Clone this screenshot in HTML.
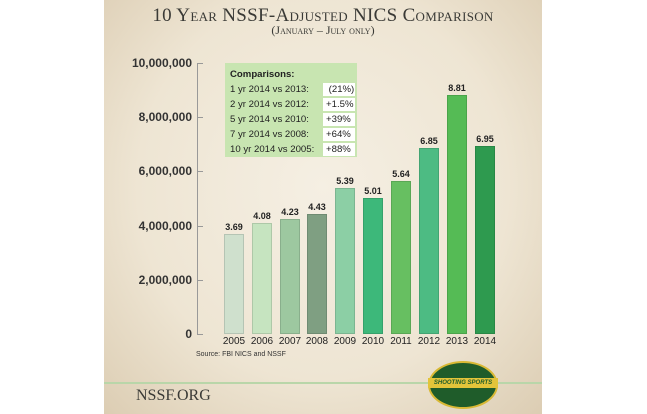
<!DOCTYPE html><html><head><style>
body{margin:0;width:647px;height:414px;background:#fff;overflow:hidden;position:relative;font-family:"Liberation Sans",sans-serif}
#p{position:absolute;left:104px;top:0;width:438px;height:414px;background:radial-gradient(ellipse at 50% 45%,#f5efe3 0%,#eee5d3 60%,#dccdb3 100%)}
.t{position:absolute;left:0;width:438px;text-align:center;font-family:"Liberation Serif",serif;color:#3a3a36;font-variant:small-caps}
.yl{position:absolute;right:455px;font-weight:bold;font-size:12px;color:#333;text-align:right}
.bar{position:absolute;width:20px;bottom:80px;box-sizing:border-box;border:1px solid rgba(0,0,0,.12)}
.v{position:absolute;width:28px;text-align:center;font-size:9px;font-weight:bold;color:#222}
.x{position:absolute;top:336px;width:30px;text-align:center;font-size:10px;color:#222}
.box{position:absolute;left:225px;top:63px;width:132px;height:94px;background:#c8e5b1;font-size:9.6px;color:#222}
.r{position:absolute;left:5px;width:124px;height:13px;line-height:13px}
.r span{position:absolute;left:93px;width:32px;background:#fff;padding-left:3px;box-sizing:border-box}
</style></head><body>
<div id="p"></div>
<div class="t" style="left:104px;top:5px;font-size:19px;letter-spacing:.3px">10 Year NSSF-Adjusted NICS Comparison</div>
<div class="t" style="left:104px;top:23px;font-size:12px">(January – July only)</div>
<div style="position:absolute;left:197px;top:63px;width:1px;height:271px;background:#999"></div>
<div style="position:absolute;left:197px;top:63px;width:6px;height:1px;background:#999"></div>
<div style="position:absolute;left:197px;top:117px;width:6px;height:1px;background:#999"></div>
<div style="position:absolute;left:197px;top:171px;width:6px;height:1px;background:#999"></div>
<div style="position:absolute;left:197px;top:226px;width:6px;height:1px;background:#999"></div>
<div style="position:absolute;left:197px;top:280px;width:6px;height:1px;background:#999"></div>
<div style="position:absolute;left:197px;top:334px;width:6px;height:1px;background:#999"></div>
<div class="yl" style="top:56px">10,000,000</div>
<div class="yl" style="top:110px">8,000,000</div>
<div class="yl" style="top:164px">6,000,000</div>
<div class="yl" style="top:219px">4,000,000</div>
<div class="yl" style="top:273px">2,000,000</div>
<div class="yl" style="top:327px">0</div>

<div class="bar" style="left:224px;height:100px;background:#cfe0cd"></div>
<div class="bar" style="left:252px;height:111px;background:#c6e4c0"></div>
<div class="bar" style="left:280px;height:115px;background:#9dc8a0"></div>
<div class="bar" style="left:307px;height:120px;background:#7f9f82"></div>
<div class="bar" style="left:335px;height:146px;background:#8ccfa5"></div>
<div class="bar" style="left:363px;height:136px;background:#3db87a"></div>
<div class="bar" style="left:391px;height:153px;background:#67bf61"></div>
<div class="bar" style="left:419px;height:186px;background:#4dbb83"></div>
<div class="bar" style="left:447px;height:239px;background:#55bb55"></div>
<div class="bar" style="left:475px;height:188px;background:#2e9a4f"></div>

<div class="v" style="left:220px;top:222px">3.69</div>
<div class="v" style="left:248px;top:211px">4.08</div>
<div class="v" style="left:276px;top:207px">4.23</div>
<div class="v" style="left:303px;top:202px">4.43</div>
<div class="v" style="left:331px;top:176px">5.39</div>
<div class="v" style="left:359px;top:186px">5.01</div>
<div class="v" style="left:387px;top:169px">5.64</div>
<div class="v" style="left:415px;top:136px">6.85</div>
<div class="v" style="left:443px;top:83px">8.81</div>
<div class="v" style="left:471px;top:134px">6.95</div>

<div class="x" style="left:219px">2005</div><div class="x" style="left:247px">2006</div><div class="x" style="left:275px">2007</div><div class="x" style="left:302px">2008</div><div class="x" style="left:330px">2009</div><div class="x" style="left:358px">2010</div><div class="x" style="left:386px">2011</div><div class="x" style="left:414px">2012</div><div class="x" style="left:442px">2013</div><div class="x" style="left:470px">2014</div>
<div style="position:absolute;left:196px;top:351px;font-size:7px;color:#333">Source: FBI NICS and NSSF</div>

<div class="box">
<div class="r" style="top:5px;font-weight:bold">Comparisons:</div>
<div class="r" style="top:20px">1 yr 2014 vs 2013:<span>&nbsp;(21%)</span></div>
<div class="r" style="top:35px">2 yr 2014 vs 2012:<span>+1.5%</span></div>
<div class="r" style="top:50px">5 yr 2014 vs 2010:<span>+39%</span></div>
<div class="r" style="top:65px">7 yr 2014 vs 2008:<span>+64%</span></div>
<div class="r" style="top:80px">10 yr 2014 vs 2005:<span>+88%</span></div>
</div>

<div style="position:absolute;left:104px;top:382px;width:438px;height:2px;background:#b9d6a9"></div>
<div style="position:absolute;left:136px;top:387px;font-family:'Liberation Serif',serif;font-size:16px;color:#3a3a36">NSSF.ORG</div>
<div style="position:absolute;left:428px;top:361px;width:66px;height:44px;border-radius:50%;background:#1f5c2a;border:2px solid #d9b934"></div>
<div style="position:absolute;left:428px;top:378px;width:70px;height:10px;background:#e3c43a;font-size:6px;font-weight:bold;color:#1f5c2a;text-align:center;line-height:10px;font-style:italic">SHOOTING SPORTS</div>
</body></html>
